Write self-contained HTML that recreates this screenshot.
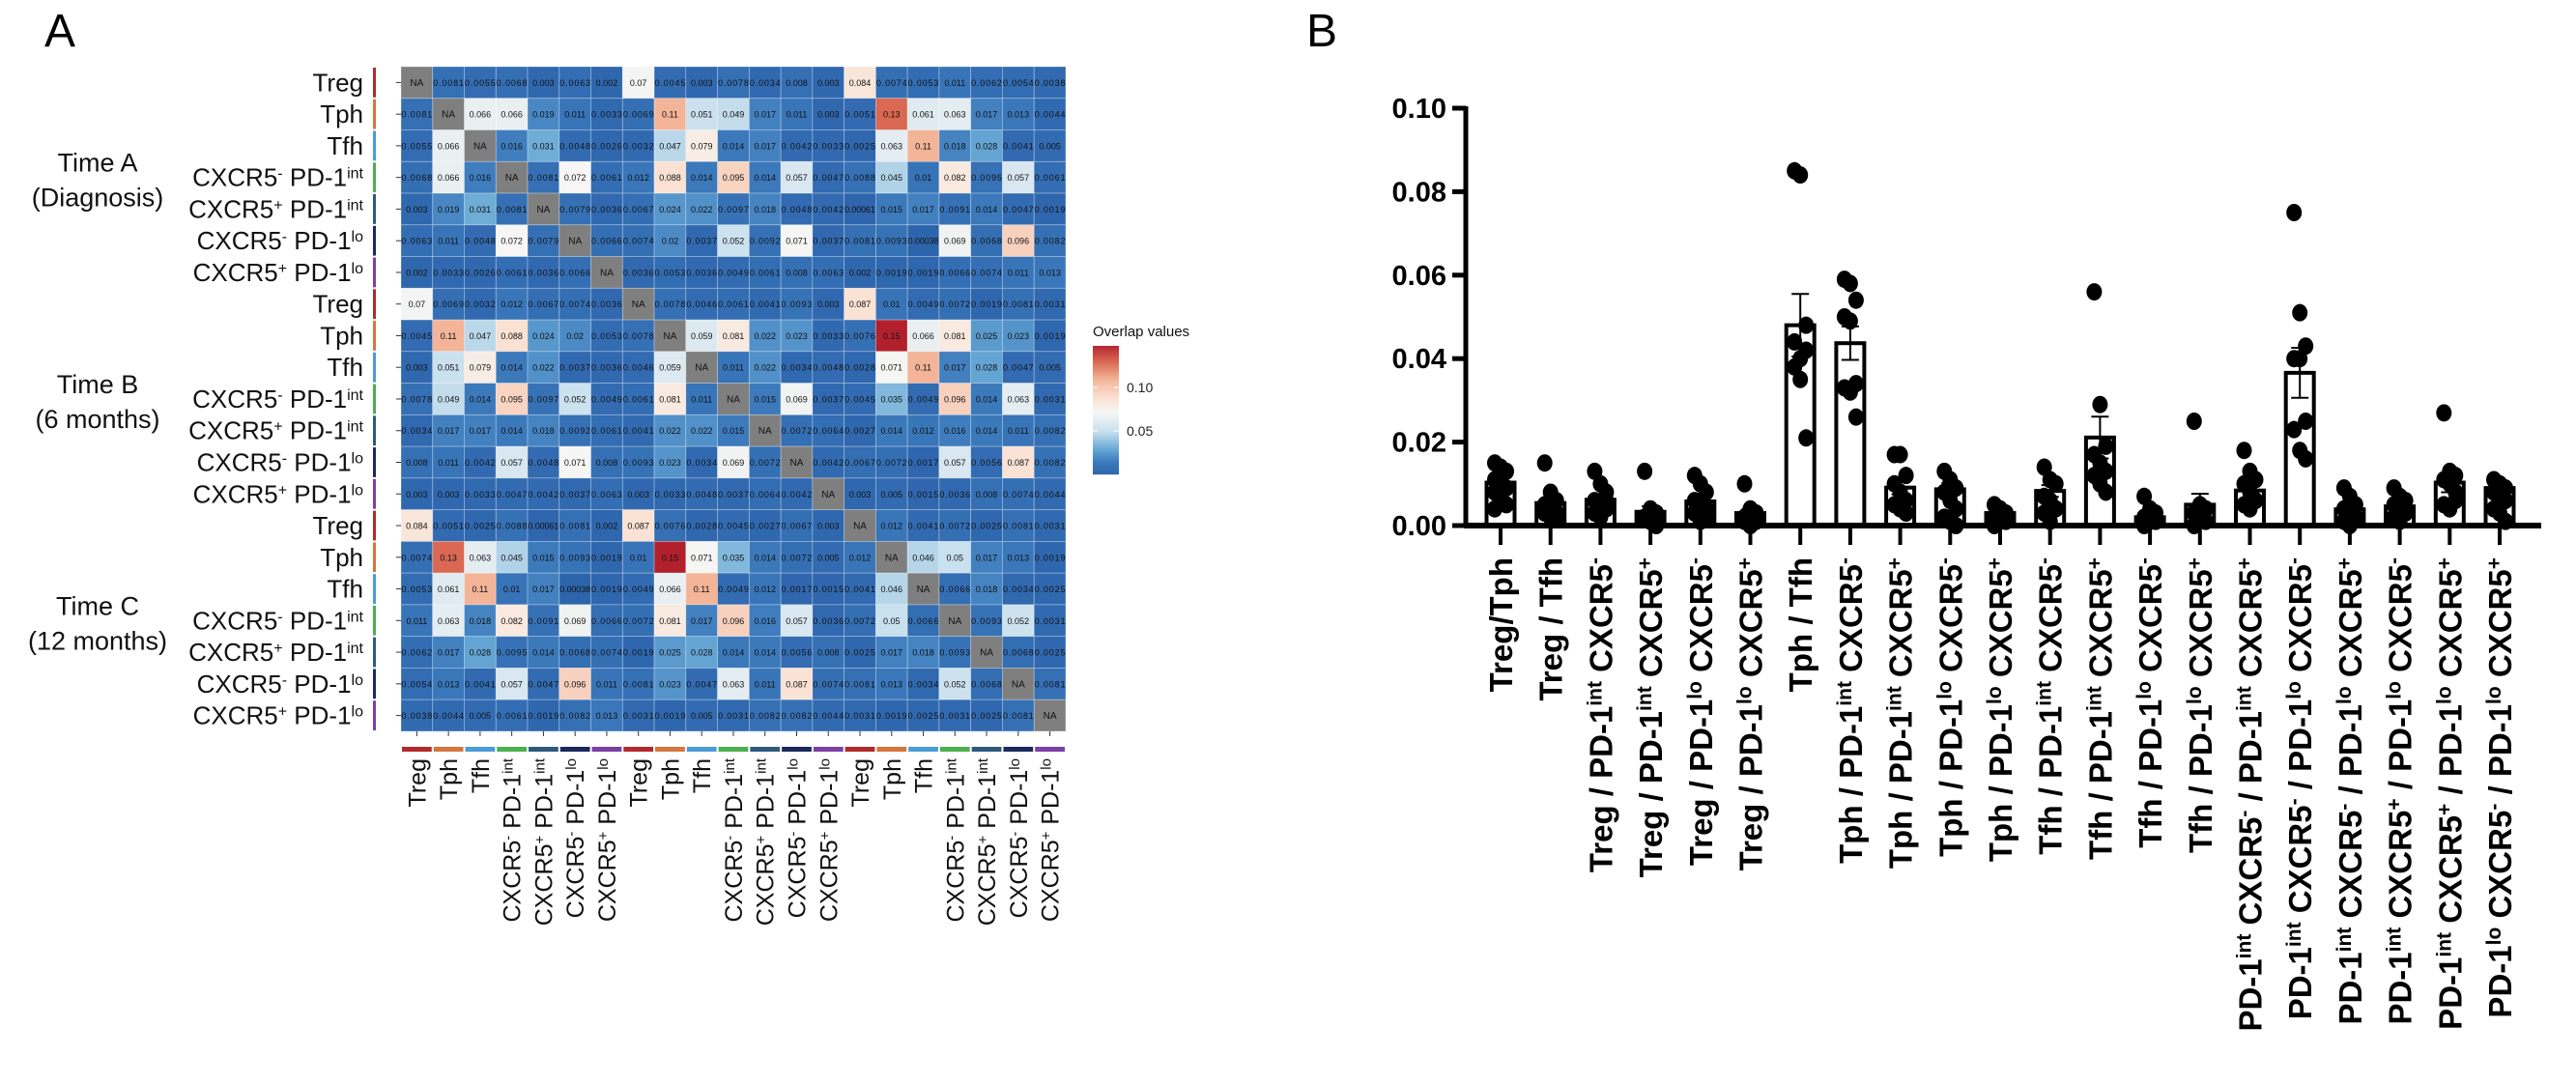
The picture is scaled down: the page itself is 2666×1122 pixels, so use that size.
<!DOCTYPE html>
<html><head><meta charset="utf-8">
<style>
html,body{margin:0;padding:0;background:#fff;}
svg{display:block;font-family:"Liberation Sans",Arial,sans-serif;}
</style></head>
<body>
<svg id="fig" width="2666" height="1122" viewBox="0 0 2666 1122" xmlns="http://www.w3.org/2000/svg">
<rect x="0" y="0" width="2666" height="1122" fill="#fff"/>
<text x="46" y="48" font-size="48">A</text>
<text x="1352" y="48" font-size="48">B</text>
<g id="heat"></g>
<g id="legend"></g>
<g id="bars"></g>
</svg>
<script>
const NS="http://www.w3.org/2000/svg";
const rowNames=["Treg","Tph","Tfh","CXCR5^- PD-1^int","CXCR5^+ PD-1^int","CXCR5^- PD-1^lo","CXCR5^+ PD-1^lo"];
const rowColors=["#b22a2a","#d4763f","#4a9bd6","#4caf50","#2d5a7c","#1a2a5c","#7b3fa6"];
const groupLines=[["Time A","(Diagnosis)"],["Time B","(6 months)"],["Time C","(12 months)"]];
const M=[
[null,0.0081,0.0055,0.0068,0.003,0.0063,0.002,0.07,0.0045,0.003,0.0078,0.0034,0.008,0.003,0.084,0.0074,0.0053,0.011,0.0062,0.0054,0.0038],
[0.0081,null,0.066,0.066,0.019,0.011,0.0033,0.0069,0.11,0.051,0.049,0.017,0.011,0.003,0.0051,0.13,0.061,0.063,0.017,0.013,0.0044],
[0.0055,0.066,null,0.016,0.031,0.0048,0.0026,0.0032,0.047,0.079,0.014,0.017,0.0042,0.0033,0.0025,0.063,0.11,0.018,0.028,0.0041,0.005],
[0.0068,0.066,0.016,null,0.0081,0.072,0.0061,0.012,0.088,0.014,0.095,0.014,0.057,0.0047,0.0088,0.045,0.01,0.082,0.0095,0.057,0.0061],
[0.003,0.019,0.031,0.0081,null,0.0079,0.0036,0.0067,0.024,0.022,0.0097,0.018,0.0048,0.0042,0.00061,0.015,0.017,0.0091,0.014,0.0047,0.0019],
[0.0063,0.011,0.0048,0.072,0.0079,null,0.0066,0.0074,0.02,0.0037,0.052,0.0092,0.071,0.0037,0.0081,0.0093,0.00038,0.069,0.0068,0.096,0.0082],
[0.002,0.0033,0.0026,0.0061,0.0036,0.0066,null,0.0036,0.0053,0.0036,0.0049,0.0061,0.008,0.0063,0.002,0.0019,0.0019,0.0066,0.0074,0.011,0.013],
[0.07,0.0069,0.0032,0.012,0.0067,0.0074,0.0036,null,0.0078,0.0046,0.0061,0.0041,0.0093,0.003,0.087,0.01,0.0049,0.0072,0.0019,0.0081,0.0031],
[0.0045,0.11,0.047,0.088,0.024,0.02,0.0053,0.0078,null,0.059,0.081,0.022,0.023,0.0033,0.0076,0.15,0.066,0.081,0.025,0.023,0.0019],
[0.003,0.051,0.079,0.014,0.022,0.0037,0.0036,0.0046,0.059,null,0.011,0.022,0.0034,0.0048,0.0028,0.071,0.11,0.017,0.028,0.0047,0.005],
[0.0078,0.049,0.014,0.095,0.0097,0.052,0.0049,0.0061,0.081,0.011,null,0.015,0.069,0.0037,0.0045,0.035,0.0049,0.096,0.014,0.063,0.0031],
[0.0034,0.017,0.017,0.014,0.018,0.0092,0.0061,0.0041,0.022,0.022,0.015,null,0.0072,0.0064,0.0027,0.014,0.012,0.016,0.014,0.011,0.0082],
[0.008,0.011,0.0042,0.057,0.0048,0.071,0.008,0.0093,0.023,0.0034,0.069,0.0072,null,0.0042,0.0067,0.0072,0.0017,0.057,0.0056,0.087,0.0082],
[0.003,0.003,0.0033,0.0047,0.0042,0.0037,0.0063,0.003,0.0033,0.0048,0.0037,0.0064,0.0042,null,0.003,0.005,0.0015,0.0036,0.008,0.0074,0.0044],
[0.084,0.0051,0.0025,0.0088,0.00061,0.0081,0.002,0.087,0.0076,0.0028,0.0045,0.0027,0.0067,0.003,null,0.012,0.0041,0.0072,0.0025,0.0081,0.0031],
[0.0074,0.13,0.063,0.045,0.015,0.0093,0.0019,0.01,0.15,0.071,0.035,0.014,0.0072,0.005,0.012,null,0.046,0.05,0.017,0.013,0.0019],
[0.0053,0.061,0.11,0.01,0.017,0.00038,0.0019,0.0049,0.066,0.11,0.0049,0.012,0.0017,0.0015,0.0041,0.046,null,0.0066,0.018,0.0034,0.0025],
[0.011,0.063,0.018,0.082,0.0091,0.069,0.0066,0.0072,0.081,0.017,0.096,0.016,0.057,0.0036,0.0072,0.05,0.0066,null,0.0093,0.052,0.0031],
[0.0062,0.017,0.028,0.0095,0.014,0.0068,0.0074,0.0019,0.025,0.028,0.014,0.014,0.0056,0.008,0.0025,0.017,0.018,0.0093,null,0.0068,0.0025],
[0.0054,0.013,0.0041,0.057,0.0047,0.096,0.011,0.0081,0.023,0.0047,0.063,0.011,0.087,0.0074,0.0081,0.013,0.0034,0.052,0.0068,null,0.0081],
[0.0038,0.0044,0.005,0.0061,0.0019,0.0082,0.013,0.0031,0.0019,0.005,0.0031,0.0082,0.0082,0.0044,0.0031,0.0019,0.0025,0.0031,0.0025,0.0081,null]];
const legendTicks=[0.05,0.10];

const barCats=["Treg/Tph","Treg / Tfh","Treg / PD-1^int CXCR5^-","Treg / PD-1^int CXCR5^+","Treg / PD-1^lo CXCR5^-","Treg / PD-1^lo CXCR5^+","Tph / Tfh","Tph / PD-1^int CXCR5^-","Tph / PD-1^int CXCR5^+","Tph / PD-1^lo CXCR5^-","Tph / PD-1^lo CXCR5^+","Tfh / PD-1^int CXCR5^-","Tfh / PD-1^int CXCR5^+","Tfh / PD-1^lo CXCR5^-","Tfh / PD-1^lo CXCR5^+","PD-1^int CXCR5^- / PD-1^int CXCR5^+","PD-1^int CXCR5^- / PD-1^lo CXCR5^-","PD-1^int CXCR5^- / PD-1^lo CXCR5^+","PD-1^int CXCR5^+ / PD-1^lo CXCR5^-","PD-1^int CXCR5^+ / PD-1^lo CXCR5^+","PD-1^lo CXCR5^- / PD-1^lo CXCR5^+"];
const barMeans=[0.0103,0.0054,0.0062,0.0033,0.0058,0.003,0.048,0.0437,0.0091,0.0087,0.003,0.0083,0.0211,0.002,0.005,0.0084,0.0366,0.0039,0.0046,0.0103,0.009];
const barSem=[0.0012,0.0013,0.0012,0.0013,0.0012,0.001,0.0075,0.004,0.0016,0.0015,0.0006,0.0014,0.005,0.0008,0.0026,0.0017,0.006,0.001,0.001,0.0023,0.0011];
const barPoints=[
[0.015,0.014,0.013,0.011,0.010,0.009,0.008,0.007,0.005,0.004],
[0.015,0.008,0.006,0.005,0.004,0.003,0.003,0.002,0.002,0.004],
[0.013,0.010,0.008,0.006,0.005,0.004,0.003,0.002,0.006],
[0.013,0.004,0.003,0.002,0.001,0.001,0.002,0.001,0.0],
[0.012,0.010,0.008,0.006,0.005,0.004,0.003,0.001,0.0015],
[0.010,0.004,0.003,0.002,0.002,0.001,0.001,0.000],
[0.085,0.084,0.048,0.044,0.040,0.042,0.038,0.035,0.021],
[0.059,0.058,0.054,0.050,0.049,0.034,0.033,0.032,0.026],
[0.017,0.017,0.012,0.010,0.008,0.006,0.005,0.004,0.003],
[0.013,0.011,0.009,0.008,0.006,0.004,0.002,0.001,0.000],
[0.005,0.004,0.003,0.002,0.001,0.001,0.000,0.002],
[0.014,0.011,0.010,0.007,0.006,0.004,0.003,0.001],
[0.056,0.029,0.019,0.017,0.015,0.013,0.012,0.010,0.008],
[0.007,0.004,0.003,0.002,0.001,0.001,0.000],
[0.025,0.005,0.004,0.003,0.002,0.001,0.000],
[0.018,0.013,0.011,0.010,0.008,0.006,0.005,0.004],
[0.075,0.051,0.043,0.040,0.040,0.025,0.023,0.018,0.016],
[0.009,0.007,0.005,0.004,0.003,0.002,0.001,0.000],
[0.009,0.007,0.006,0.005,0.004,0.003,0.002,0.001],
[0.027,0.013,0.012,0.011,0.010,0.008,0.005,0.004,0.006],
[0.011,0.010,0.009,0.008,0.007,0.006,0.004,0.003,0.001]];
const yTicks=[0,0.02,0.04,0.06,0.08,0.10];

function mk(tag,attrs,parent){const e=document.createElementNS(NS,tag);for(const k in attrs)e.setAttribute(k,attrs[k]);if(parent)parent.appendChild(e);return e;}
function richText(t,str,supSize){
  str.split(" ").forEach((word,wi)=>{
    const parts=word.split("^");
    const base=mk("tspan",{},t);base.textContent=(wi>0?" ":"")+parts[0];
    if(parts[1]!==undefined){const s=mk("tspan",{"font-size":supSize,"baseline-shift":"super"},t);s.textContent=parts[1];const r=mk("tspan",{"font-size":"1px"},t);r.textContent="";}
  });
}
const stops=[[0,[45,100,172]],[0.015,[60,122,188]],[0.03,[106,170,214]],[0.05,[201,224,238]],[0.072,[247,246,244]],[0.09,[250,222,206]],[0.11,[243,180,152]],[0.13,[218,104,82]],[0.15,[178,32,44]]];
function col(v){if(v<=0)v=0;if(v>=0.15)v=0.15;for(let i=1;i<stops.length;i++){if(v<=stops[i][0]){const a=stops[i-1],b=stops[i],f=(v-a[0])/(b[0]-a[0]);const c=a[1].map((x,j)=>Math.round(x+(b[1][j]-x)*f));return `rgb(${c})`;}}return "rgb(178,32,44)";}

const H=document.getElementById("heat");
const hx0=415,hy0=69,cs=32.76,n=21;
const cx=j=>hx0+j*cs, cy=i=>hy0+i*cs;
for(let i=0;i<n;i++)for(let j=0;j<n;j++){
  const v=M[i][j];
  const r=mk("rect",{x:cx(j),y:cy(i),width:cs,height:cs,fill:v===null?"#7f7f7f":col(v),stroke:"#fff","stroke-opacity":"0.35","stroke-width":"0.8"},H);
  
  
  const t=mk("text",{x:cx(j)+cs/2,y:cy(i)+cs/2+3.5,"font-size":v===null?10:9,"text-anchor":"middle",fill:"#111"},H);
  
  
  t.textContent=v===null?"NA":String(v);
  if(t.textContent.length>5)t.setAttribute("textLength",cs-1);
}
for(let i=0;i<n;i++){
  const k=i%7;
  const lab=mk("text",{x:376,y:cy(i)+cs/2+9,"font-size":26,"text-anchor":"end",fill:"#111"},H);
  
  
  richText(lab,rowNames[k],16);
  const b=mk("rect",{x:386,y:cy(i)+1,width:3,height:cs-2,fill:rowColors[k]},H);
  
  
  mk("line",{x1:410,x2:415,y1:cy(i)+cs/2,y2:cy(i)+cs/2,stroke:"#333","stroke-width":1},H);
  const cb=mk("rect",{x:cx(i)+1,y:773,width:cs-2,height:5,fill:rowColors[k]},H);
  
  
  mk("line",{x1:cx(i)+cs/2,x2:cx(i)+cs/2,y1:hy0+n*cs,y2:hy0+n*cs+5,stroke:"#333","stroke-width":1},H);
  const xl=mk("text",{transform:`translate(${cx(i)+cs/2+9},785) rotate(-90)`,"font-size":25,"text-anchor":"end",fill:"#111"},H);
  
  
  richText(xl,rowNames[k],15);
}
groupLines.forEach((g,gi)=>{
  const midY=cy(gi*7)+3.5*cs;
  g.forEach((line,li)=>{
    const t=mk("text",{x:101,y:midY+(li===0?-6:30),"font-size":27,"text-anchor":"middle",fill:"#111"},H);
    
    
    t.textContent=line;
  });
});
const L=document.getElementById("legend");
const lt=mk("text",{x:1131,y:348,"font-size":15,fill:"#111"},L);


lt.textContent="Overlap values";
const ly=v=>491-v*900;
for(let y=358;y<491;y++){mk("rect",{x:1131,y:y,width:27,height:1.2,fill:col((491-y)/900)},L);}
legendTicks.forEach(v=>{
  mk("line",{x1:1131,x2:1136,y1:ly(v),y2:ly(v),stroke:"#fff"},L);
  mk("line",{x1:1153,x2:1158,y1:ly(v),y2:ly(v),stroke:"#fff"},L);
  const t=mk("text",{x:1166,y:ly(v)+5,"font-size":14,fill:"#222"},L);
  
  
  t.textContent=v.toFixed(2);
});

const B=document.getElementById("bars");
const yb=544, ys=4320, bx0=1553, bstep=51.7, bw=29;
const Y=v=>yb-v*ys, X=i=>bx0+i*bstep;
yTicks.forEach(v=>{
  mk("line",{x1:1503,x2:1517,y1:Y(v),y2:Y(v),stroke:"#000","stroke-width":5},B);
  const t=mk("text",{x:1497,y:Y(v)+10,"font-size":29,"font-weight":"bold","text-anchor":"end"},B);
  
  
  t.textContent=v.toFixed(2);
});
const ya=mk("line",{x1:1517,x2:1517,y1:Y(0.10)-2,y2:yb+2,stroke:"#000","stroke-width":5},B);


barMeans.forEach((m,i)=>{
  const x=X(i);
  const r=mk("rect",{x:x-bw/2,y:Y(m),width:bw,height:yb-Y(m),fill:"#fff",stroke:"#000","stroke-width":4},B);
  
  
  const top=Y(m+barSem[i]),bot=Y(Math.max(0,m-barSem[i]));
  mk("line",{x1:x,x2:x,y1:top,y2:bot,stroke:"#000","stroke-width":2},B);
  mk("line",{x1:x-9,x2:x+9,y1:top,y2:top,stroke:"#000","stroke-width":2},B);
  mk("line",{x1:x-9,x2:x+9,y1:bot,y2:bot,stroke:"#000","stroke-width":2},B);
  barPoints[i].forEach((p,k)=>{
    const off=((k%3)-1)*6;
    const c=mk("ellipse",{cx:x+off,cy:Y(p),rx:8,ry:9,fill:"#000"},B);
    
    
  });
  mk("line",{x1:x,x2:x,y1:yb,y2:yb+20,stroke:"#000","stroke-width":4},B);
  const t=mk("text",{transform:`translate(${x+12},577) rotate(-90)`,"font-size":33,"font-weight":"bold","text-anchor":"end"},B);
  
  
  richText(t,barCats[i],21);
});
const xa=mk("line",{x1:1515,x2:2630,y1:yb,y2:yb,stroke:"#000","stroke-width":6},B);


</script>
</body></html>
